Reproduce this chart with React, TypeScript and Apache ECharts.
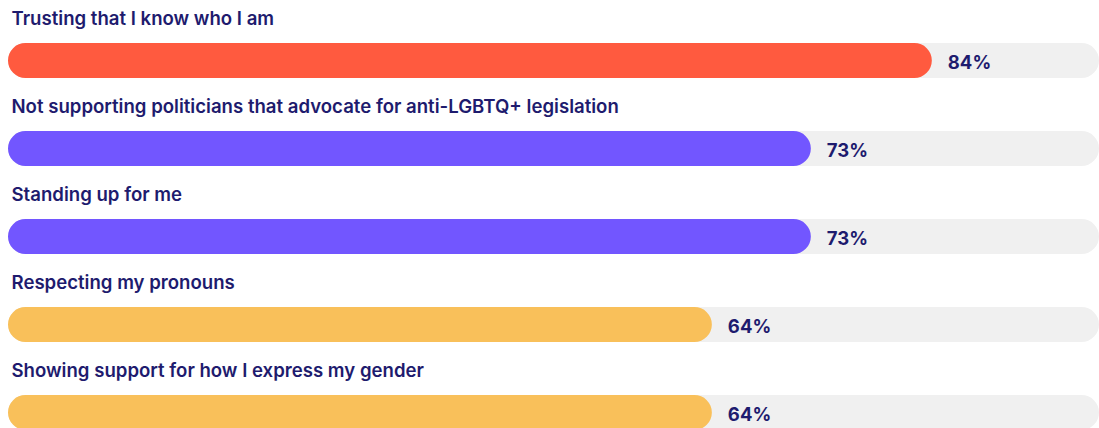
import React, { useEffect, useRef } from "react";
import * as echarts from "echarts";

const categories = [
  "Trusting that I know who I am",
  "Not supporting politicians that advocate for anti-LGBTQ+ legislation",
  "Standing up for me",
  "Respecting my pronouns",
  "Showing support for how I express my gender",
];
const values = [84, 73, 73, 64, 64];
const barColors = ["#FF5A3F", "#7256FF", "#7256FF", "#F9C05A", "#F9C05A"];
const TEXT = "#1E1B6E";

export default function App() {
  const ref = useRef<HTMLDivElement>(null);
  useEffect(() => {
    document.body.style.margin = "0";
    document.body.style.overflow = "hidden";
    const chart = echarts.init(ref.current!, undefined, { renderer: "svg" });
    chart.setOption({
      animation: false,
      grid: { left: 8, right: 0, top: 16.5, height: 440, containLabel: false },
      xAxis: {
        type: "value",
        min: 0,
        max: 99.2,
        show: false,
      },
      yAxis: {
        type: "category",
        data: categories,
        inverse: true,
        show: false,
      },
      series: [
        {
          type: "bar",
          barWidth: 35,
          showBackground: true,
          backgroundStyle: { color: "#F0F0F0", borderRadius: 17.5 },
          data: values.map((v, i) => ({
            value: v,
            itemStyle: { color: barColors[i], borderRadius: 17.5 },
          })),
          label: {
            show: true,
            position: "right",
            distance: 16,
            formatter: "{c}%",
            color: TEXT,
            fontFamily: "Inter",
            fontWeight: 700,
            fontSize: 18.5,
            offset: [0, 1],
          },
        },
        {
          type: "bar",
          barWidth: 35,
          barGap: "-100%",
          silent: true,
          itemStyle: { color: "transparent" },
          data: values.map(() => 0.001),
          label: {
            show: true,
            position: [3.5, -24.6],
            align: "left",
            verticalAlign: "middle",
            formatter: (p: any) => categories[p.dataIndex],
            color: TEXT,
            fontFamily: "Inter",
            fontWeight: 600,
            fontSize: 18.6,
          },
          z: 5,
        },
      ],
    });
    return () => chart.dispose();
  }, []);
  return (
    <div style={{ width: 1099, height: 428, overflow: "hidden" }}>
      <div ref={ref} style={{ width: 1099, height: 460 }} />
    </div>
  );
}
